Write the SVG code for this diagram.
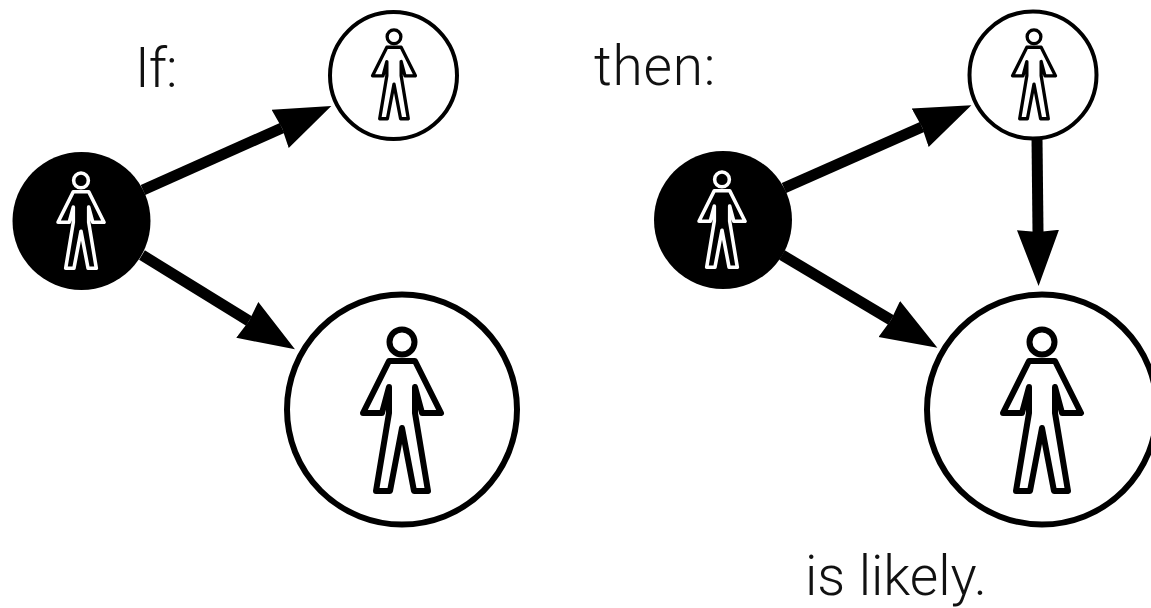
<svg xmlns="http://www.w3.org/2000/svg" width="1151" height="608" viewBox="0 0 1151 608">
<style>
.lbl{font-family:"Roboto","Liberation Sans",sans-serif;font-weight:300;font-size:55px;fill:#111}
.edge{stroke:#000;stroke-width:11;fill:none;marker-end:url(#head)}
.ring{fill:#fff;stroke:#000}
.dark{fill:#000;stroke:none}
.fig{fill:none;stroke:currentColor;stroke-width:6;stroke-linejoin:round}
</style>
<defs>
<marker id="head" markerUnits="userSpaceOnUse" markerWidth="60" markerHeight="50" viewBox="0 0 60 50" refX="2" refY="25" orient="auto">
<path d="M0,4 L56,25 L0,46 L2,25 Z" fill="#000"/>
</marker>
<g id="person" class="fig">
<circle cx="0" cy="16" r="12.5"/>
<path d="M-13,35 H13 L39,87 H20 L13,61 V87 L26,165 H12 L0,102 L-12,165 H-26 L-13,87 V61 L-20,87 H-39 Z"/>
</g>
</defs>
<rect width="1151" height="608" fill="#fff"/>
<g id="connectors">
<line class="edge" x1="143" y1="190" x2="282" y2="128"/>
<line class="edge" x1="142" y1="255" x2="249" y2="321"/>
<line class="edge" x1="784" y1="188" x2="922" y2="127"/>
<line class="edge" x1="782" y1="255" x2="891" y2="320"/>
<line class="edge" x1="1037" y1="138" x2="1038" y2="232"/>
</g>
<g id="label-if"><text class="lbl" x="135" y="87" letter-spacing="-1">If:</text></g>
<g id="label-then"><text class="lbl" x="594" y="85" letter-spacing=".8">then:</text></g>
<g id="label-likely"><text class="lbl" x="805" y="595">is likely.</text></g>
<g id="node-l-source"><circle class="dark" cx="81.5" cy="221" r="69"/><use href="#person" color="#fff" transform="translate(81,171) scale(.59)"/></g>
<g id="node-l-top"><circle class="ring" stroke-width="4" cx="393.5" cy="75.5" r="63.5"/><use href="#person" color="#000" transform="translate(394,28) scale(.55)"/></g>
<g id="node-l-bottom"><circle class="ring" stroke-width="6" cx="402" cy="409.5" r="115"/><use href="#person" color="#000" transform="translate(402,326)"/></g>
<g id="node-r-source"><circle class="dark" cx="723" cy="220" r="69"/><use href="#person" color="#fff" transform="translate(722,170) scale(.59)"/></g>
<g id="node-r-top"><circle class="ring" stroke-width="4" cx="1033" cy="75" r="63.5"/><use href="#person" color="#000" transform="translate(1034,28) scale(.55)"/></g>
<g id="node-r-bottom"><circle class="ring" stroke-width="6" cx="1042" cy="409.5" r="115"/><use href="#person" color="#000" transform="translate(1042,326)"/></g>
</svg>
